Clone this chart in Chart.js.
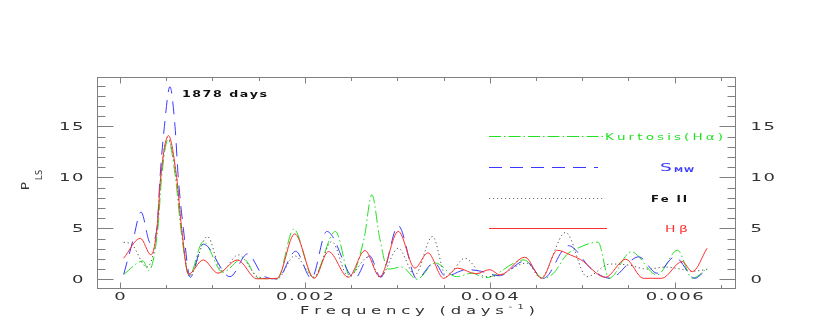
<!DOCTYPE html>
<html>
<head>
<meta charset="utf-8">
<script src="https://cdn.jsdelivr.net/npm/chart.js@4.4.1/dist/chart.umd.min.js"></script>
<style>
html,body{margin:0;padding:0;background:#ffffff;overflow:hidden;}
canvas{display:block;}
</style>
</head>
<body>
<canvas id="chart" width="830" height="327"></canvas>
<script>
// ---------------- data ----------------
const xTickLabels = [0, 0.002, 0.004, 0.006];
const yTickLabels = [0, 5, 10, 15];
const seriesNames = ['Kurtosis(Hα)', 'S_MW', 'Fe II', 'Hβ'];

const kurtFreq = [0.00004, 0.00025, 0.00031, 0.00041, 0.00045, 0.00052, 0.0006, 0.00066, 0.00075, 0.0009, 0.00111, 0.00133, 0.0015, 0.0017, 0.00188, 0.00209, 0.00233, 0.00249, 0.00264, 0.002724, 0.00281, 0.0029, 0.00305, 0.00321, 0.00341, 0.00364, 0.00381, 0.00395, 0.00437, 0.00458, 0.00469, 0.00483, 0.00495, 0.00517, 0.00529, 0.00553, 0.00581, 0.00603, 0.00619, 0.00635];
const kurtPow  = [0.49, 1.8, 0.85, 5, 10, 13.7, 10, 4.8, 0.4, 3.7, 0.7, 2.07, 0.1, 0.05, 4.92, 0.2, 4.7, 0.26, 4, 8.3, 4, 1.0, 1.2, 0.0, 1.6, 0.26, 0.6, 0.15, 1.9, 0.1, 0.6, 2.4, 3.05, 3.65, 0.1, 2.7, 0.43, 2.85, 0.1, 1.08];

const smwFreq = [0.00004, 0.00014, 0.000227, 0.00033, 0.0004, 0.000433, 0.00048, 0.00054, 0.000595, 0.00063, 0.000685, 0.00076, 0.0009, 0.00119, 0.00138, 0.00155, 0.0017, 0.0019, 0.00207, 0.002237, 0.00254, 0.0027, 0.00282, 0.00301, 0.00321, 0.0034, 0.00352, 0.00375, 0.0039, 0.0041, 0.00438, 0.00458, 0.00485, 0.0051, 0.0053, 0.00561, 0.00581, 0.006, 0.00622, 0.0063];
const smwPow  = [0.49, 3.8, 6.6, 3.54, 5.0, 10, 15, 18.9, 15, 10, 5, 0.2, 3.45, 0.26, 2.5, 0.35, 0.05, 2.75, 0.1, 4.7, 0.1, 2.3, 0.2, 5.25, 0.05, 1.65, 0.3, 0.95, 0.8, 0.35, 1.8, 0.1, 3.3, 1.0, 0.1, 2.2, 0.6, 2.2, 0.1, 0.6];

const feFreq = [0.00004, 0.00013, 0.00029, 0.0004, 0.00044, 0.000515, 0.00061, 0.000665, 0.00075, 0.000945, 0.0011, 0.00128, 0.0015, 0.0017, 0.00189, 0.0021, 0.00229, 0.00247, 0.00269, 0.00281, 0.00301, 0.00319, 0.00338, 0.00353, 0.00373, 0.00395, 0.0041, 0.0044, 0.00455, 0.00482, 0.00505, 0.0053, 0.0055, 0.0057, 0.0059, 0.0061, 0.0062, 0.00636];
const fePow  = [3.64, 3.4, 1.2, 5, 10, 13.9, 10, 5, 0.3, 4.2, 0.85, 2.4, 0.2, 0.05, 2.3, 0.2, 3.7, 0.26, 2.2, 0.2, 3.05, 0.43, 4.2, 0.26, 2.07, 0.26, 0.4, 1.6, 0.15, 4.6, 0.26, 1.5, 1.4, 1.0, 1.2, 0.95, 0.8, 1.0];

const hbFreq = [0.00004, 0.00022, 0.000335, 0.0004, 0.00044, 0.000523, 0.000613, 0.000667, 0.00074, 0.0009, 0.00106, 0.00127, 0.00148, 0.0017, 0.00189, 0.0021, 0.002255, 0.00247, 0.00265, 0.00281, 0.00301, 0.00319, 0.00333, 0.0035, 0.00365, 0.00385, 0.004, 0.00411, 0.00438, 0.00456, 0.00473, 0.00487, 0.00498, 0.00525, 0.00547, 0.00566, 0.00586, 0.00608, 0.00619, 0.00635];
const hbPow  = [2.07, 4.03, 2.4, 5, 10, 14.1, 10, 5, 0.5, 1.9, 0.6, 1.9, 0.05, 0.1, 4.46, 0.1, 2.72, 0.2, 2.82, 0.26, 4.7, 1.1, 2.6, 0.1, 1.1, 0.55, 0.95, 0.43, 2.17, 0.1, 2.85, 2.4, 1.95, 0.2, 1.97, 0.1, 0.1, 1.74, 0.75, 3.05];

// ---------------- style ----------------
const COL_GREEN = '#22e022';
const COL_BLUE = '#3a3aff';
const COL_GRAY = '#505050';
const COL_RED = '#ff3030';
const DASH_GREEN = [12, 3, 1.5, 3];
const DASH_BLUE = [13, 8];
const DASH_GRAY = [1.2, 2.8];
const FRAME = '#808080';
const TEXT = '#333333';
const FAMILY = '"DejaVu Sans", sans-serif';

function pts(f, p) { return f.map((x, i) => ({ x: x, y: p[i] })); }
function ds(label, f, p, color, dash) {
  return {
    label: label, data: pts(f, p), borderColor: color, borderWidth: 1,
    borderDash: dash, fill: false, pointRadius: 0, cubicInterpolationMode: 'monotone'
  };
}

// draw a run of characters, horizontally stretched, with letter spacing
function drawRun(ctx, parts, o) {
  const chars = [];
  parts.forEach(p => {
    const font = (p.weight || 'normal') + ' ' + p.size + 'px ' + FAMILY;
    ctx.font = font;
    for (const ch of p.t) chars.push({ ch: ch, font: font, w: ctx.measureText(ch).width * o.sx, dy: p.dy || 0 });
  });
  const glyphs = chars.reduce((a, c) => a + c.w, 0);
  let ls = o.ls || 0;
  if (o.width && chars.length > 1) ls = (o.width - glyphs) / (chars.length - 1);
  const total = glyphs + ls * (chars.length - 1);
  let x = o.x - (o.align === 'center' ? total / 2 : o.align === 'right' ? total : 0);
  ctx.fillStyle = o.color;
  ctx.textBaseline = 'alphabetic';
  ctx.textAlign = 'left';
  chars.forEach(c => {
    ctx.save();
    ctx.font = c.font;
    ctx.translate(x, o.y + c.dy);
    ctx.scale(o.sx, 1);
    ctx.fillText(c.ch, 0, 0);
    ctx.restore();
    x += c.w + ls;
  });
}

function fmtX(v) { return v === 0 ? '0' : v.toFixed(3); }

const decor = {
  id: 'decor',
  afterDraw(chart) {
    const ctx = chart.ctx, a = chart.chartArea;
    const xs = chart.scales.x, ys = chart.scales.y;
    const L = a.left - 0.5, T = a.top + 0.5, R = a.right - 0.5, B = a.bottom - 0.5;
    ctx.save();
    ctx.setLineDash([]);
    ctx.strokeStyle = FRAME;
    ctx.lineWidth = 1;
    ctx.strokeRect(L, T, R - L, B - T);
    ctx.beginPath();
    // x ticks (inside, bottom and top)
    for (let k = 0; k <= 13; k++) {
      const v = k * 0.0005;
      const px = Math.round(xs.getPixelForValue(v)) + 0.5;
      const len = (k % 4 === 0) ? 6 : 3.5;
      ctx.moveTo(px, B); ctx.lineTo(px, B - len);
      ctx.moveTo(px, T); ctx.lineTo(px, T + len);
    }
    // y ticks (inside, left and right)
    for (let v = 0; v <= 19; v++) {
      const py = Math.round(ys.getPixelForValue(v)) + 0.5;
      const len = (v % 5 === 0) ? 16 : 8;
      ctx.moveTo(L, py); ctx.lineTo(L + len, py);
      ctx.moveTo(R, py); ctx.lineTo(R - len, py);
    }
    ctx.stroke();

    // tick labels
    xs.ticks.forEach(t => {
      drawRun(ctx, [{ t: fmtX(t.value), size: 10 }], { x: xs.getPixelForValue(t.value), y: 300, align: 'center', sx: 1.8, ls: 1.6, color: TEXT });
    });
    ys.ticks.forEach(t => {
      const py = ys.getPixelForValue(t.value) + 3.6;
      drawRun(ctx, [{ t: String(t.value), size: 10 }], { x: 83.5, y: py, align: 'right', sx: 1.8, ls: 1.6, color: TEXT });
      drawRun(ctx, [{ t: String(t.value), size: 10 }], { x: 750.5, y: py, align: 'left', sx: 1.8, ls: 1.6, color: TEXT });
    });

    // axis titles
    drawRun(ctx, [{ t: 'Frequency (days', size: 11 }, { t: '-1', size: 7, dy: -5 }, { t: ')', size: 11 }],
      { x: 300, y: 314, align: 'left', sx: 1.5, width: 235, color: TEXT });
    ctx.save();
    ctx.translate(28.5, 186);
    ctx.rotate(-Math.PI / 2);
    drawRun(ctx, [{ t: 'P', size: 11 }], { x: 0, y: 0, align: 'center', sx: 1.25, color: TEXT });
    ctx.restore();
    ctx.save();
    ctx.translate(41.5, 175);
    ctx.rotate(-Math.PI / 2);
    drawRun(ctx, [{ t: 'LS', size: 8 }], { x: 0, y: 0, align: 'center', sx: 1.0, ls: 0.5, color: TEXT });
    ctx.restore();

    // annotation
    drawRun(ctx, [{ t: '1878 days', size: 9, weight: 'bold' }], { x: 182, y: 97, align: 'left', sx: 1.4, width: 85, color: '#111' });

    // legend samples
    const leg = [
      { y: 136.5, x1: 603, col: COL_GREEN, dash: DASH_GREEN },
      { y: 167.5, x1: 598, col: COL_BLUE, dash: DASH_BLUE },
      { y: 198.5, x1: 605, col: '#777777', dash: DASH_GRAY },
      { y: 228.5, x1: 607, col: COL_RED, dash: [] }
    ];
    leg.forEach(l => {
      ctx.beginPath();
      ctx.setLineDash(l.dash);
      ctx.strokeStyle = l.col;
      ctx.moveTo(489, l.y); ctx.lineTo(l.x1, l.y);
      ctx.stroke();
    });
    ctx.setLineDash([]);
    drawRun(ctx, [{ t: seriesNames[0], size: 9 }], { x: 605, y: 139.5, align: 'left', sx: 1.5, width: 118, color: COL_GREEN });
    drawRun(ctx, [{ t: 'S', size: 11 }], { x: 660, y: 170.5, align: 'left', sx: 1.7, color: COL_BLUE });
    drawRun(ctx, [{ t: 'MW', size: 6.5, weight: 'bold' }], { x: 674, y: 172, align: 'left', sx: 1.4, width: 20, color: COL_BLUE });
    drawRun(ctx, [{ t: seriesNames[2], size: 9, weight: 'bold' }], { x: 651, y: 201.5, align: 'left', sx: 1.3, width: 36, color: '#111' });
    drawRun(ctx, [{ t: seriesNames[3], size: 9 }], { x: 665, y: 231.5, align: 'left', sx: 1.55, width: 23, color: COL_RED });
    ctx.restore();
  }
};

new Chart(document.getElementById('chart'), {
  type: 'line',
  data: {
    datasets: [
      ds(seriesNames[3], hbFreq, hbPow, COL_RED, []),
      ds(seriesNames[2], feFreq, fePow, COL_GRAY, DASH_GRAY),
      ds(seriesNames[1], smwFreq, smwPow, COL_BLUE, DASH_BLUE),
      ds(seriesNames[0], kurtFreq, kurtPow, COL_GREEN, DASH_GREEN)
    ]
  },
  options: {
    responsive: false,
    animation: false,
    devicePixelRatio: 1,
    layout: { padding: { top: 77, left: 0, right: 0, bottom: 0 } },
    plugins: { legend: { display: false }, tooltip: { enabled: false }, title: { display: false } },
    elements: { point: { radius: 0 } },
    scales: {
      x: {
        type: 'linear', position: 'bottom', min: -0.000238, max: 0.006663,
        grid: { display: false }, border: { display: false }, ticks: { display: false },
        afterBuildTicks: s => { s.ticks = xTickLabels.map(v => ({ value: v })); },
        afterFit: s => { s.height = 38; }
      },
      y: {
        type: 'linear', position: 'left', min: -0.95, max: 19.85,
        grid: { display: false }, border: { display: false }, ticks: { display: false },
        afterBuildTicks: s => { s.ticks = yTickLabels.map(v => ({ value: v })); },
        afterFit: s => { s.width = 98; }
      },
      y2: {
        type: 'linear', position: 'right', min: -0.95, max: 19.85,
        grid: { display: false }, border: { display: false }, ticks: { display: false },
        afterBuildTicks: s => { s.ticks = yTickLabels.map(v => ({ value: v })); },
        afterFit: s => { s.width = 94; }
      }
    }
  },
  plugins: [decor]
});
</script>
</body>
</html>
